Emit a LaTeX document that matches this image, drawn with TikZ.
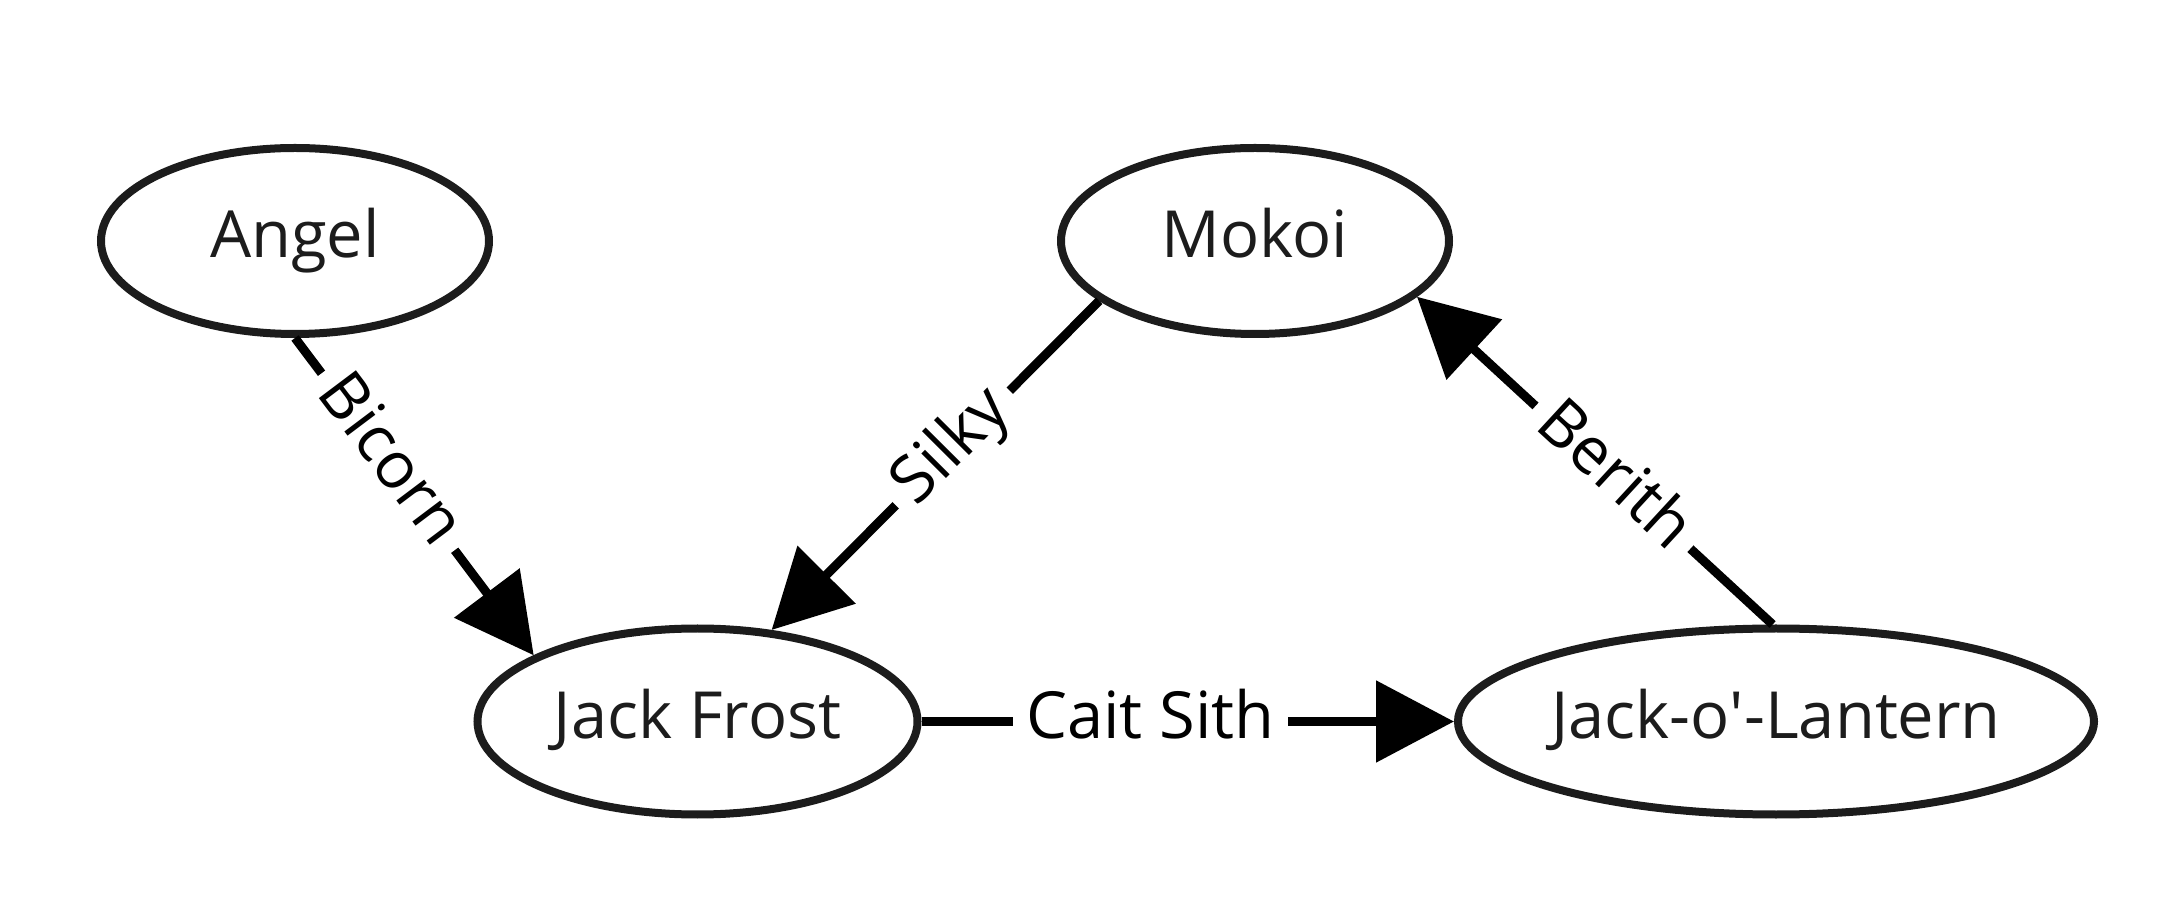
\documentclass[tikz,border=0pt]{standalone}
\usepackage{fontspec}
\setmainfont{Open Sans}
\usetikzlibrary{shapes.geometric,arrows.meta}
\definecolor{nodegray}{RGB}{28,28,28}
\tikzset{
  state/.style={ellipse, draw=nodegray, line width=8pt, inner sep=0pt,
    text height=48.75pt, text depth=15pt, text=nodegray,
    font=\fontsize{65}{78}\selectfont},
  edgelab/.style={sloped, fill=white, inner xsep=13pt, inner ysep=2pt,
    text height=48.75pt, text depth=15pt, text=black,
    font=\fontsize{65}{78}\selectfont},
  arc/.style={draw=black, line width=9pt, -{Triangle[length=78pt,width=80pt]}}
}
\begin{document}
\begin{tikzpicture}[x=1pt,y=1pt]
\useasboundingbox (0,0) rectangle (2168,916);
\node[state, minimum width=388pt, minimum height=186pt] (angel) at (295,675) {\makebox[0pt]{Angel}};
\node[state, minimum width=388pt, minimum height=186pt] (mokoi) at (1255,675) {\makebox[0pt]{Mokoi}};
\node[state, minimum width=440pt, minimum height=186pt] (jf) at (697.5,194.5) {\makebox[0pt]{Jack Frost}};
\node[state, minimum width=636pt, minimum height=186pt] (jol) at (1776,194.5) {\makebox[0pt]{Jack-o\textquotesingle-Lantern}};
\draw[arc] (angel.270) -- node[edgelab, pos=0.39] {Bicorn} (jf.158);
\draw[arc] (mokoi.201) -- node[edgelab, pos=0.447] {Silky} (jf.51.5);
\draw[arc] (jf.east) -- node[edgelab, pos=0.43] {Cait Sith} (jol.west);
\draw[arc] (jol.92) -- node[edgelab, pos=0.449] {Berith} (mokoi.-19);
\end{tikzpicture}
\end{document}
